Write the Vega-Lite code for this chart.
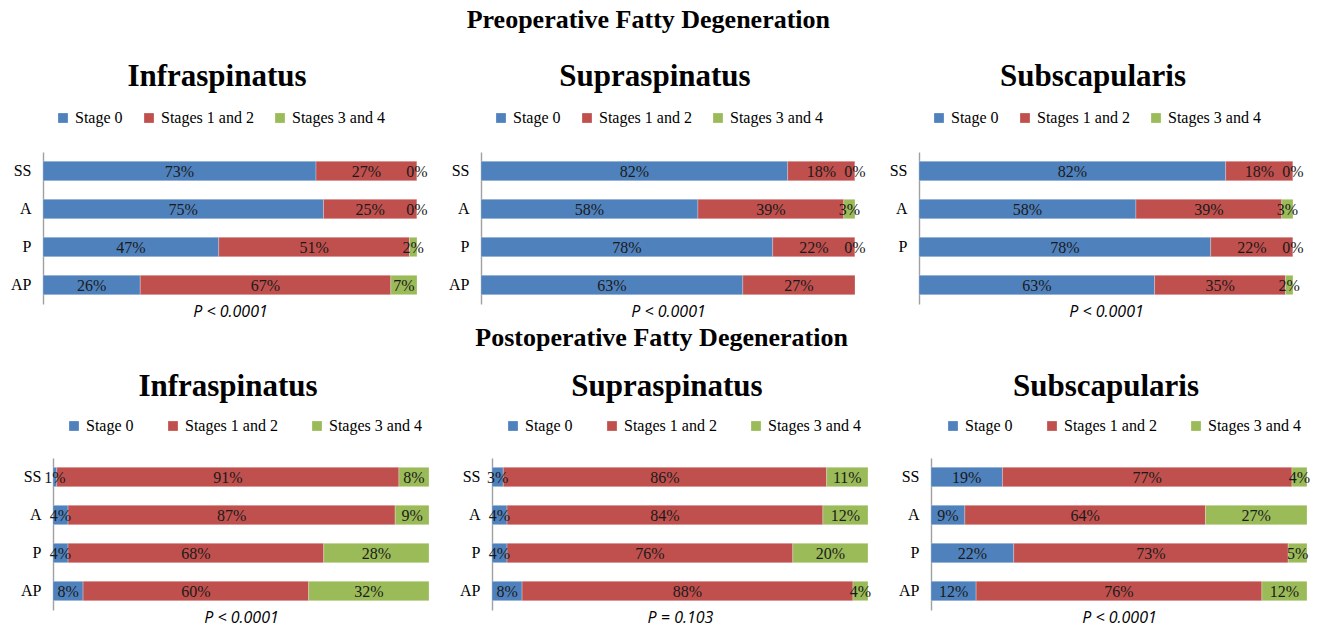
{
  "$schema": "https://vega.github.io/schema/vega-lite/v6.json",
  "background": "white",
  "padding": {"left": 7, "top": 7, "right": 5, "bottom": 2},
  "datasets": {
    "fd": [
      {"period": "Preoperative", "muscle": "Infraspinatus", "pos": "SS", "stage": "Stage 0", "value": 73},
      {"period": "Preoperative", "muscle": "Infraspinatus", "pos": "SS", "stage": "Stages 1 and 2", "value": 27},
      {"period": "Preoperative", "muscle": "Infraspinatus", "pos": "SS", "stage": "Stages 3 and 4", "value": 0},
      {"period": "Preoperative", "muscle": "Infraspinatus", "pos": "A", "stage": "Stage 0", "value": 75},
      {"period": "Preoperative", "muscle": "Infraspinatus", "pos": "A", "stage": "Stages 1 and 2", "value": 25},
      {"period": "Preoperative", "muscle": "Infraspinatus", "pos": "A", "stage": "Stages 3 and 4", "value": 0},
      {"period": "Preoperative", "muscle": "Infraspinatus", "pos": "P", "stage": "Stage 0", "value": 47},
      {"period": "Preoperative", "muscle": "Infraspinatus", "pos": "P", "stage": "Stages 1 and 2", "value": 51},
      {"period": "Preoperative", "muscle": "Infraspinatus", "pos": "P", "stage": "Stages 3 and 4", "value": 2},
      {"period": "Preoperative", "muscle": "Infraspinatus", "pos": "AP", "stage": "Stage 0", "value": 26},
      {"period": "Preoperative", "muscle": "Infraspinatus", "pos": "AP", "stage": "Stages 1 and 2", "value": 67},
      {"period": "Preoperative", "muscle": "Infraspinatus", "pos": "AP", "stage": "Stages 3 and 4", "value": 7},

      {"period": "Preoperative", "muscle": "Supraspinatus", "pos": "SS", "stage": "Stage 0", "value": 82},
      {"period": "Preoperative", "muscle": "Supraspinatus", "pos": "SS", "stage": "Stages 1 and 2", "value": 18},
      {"period": "Preoperative", "muscle": "Supraspinatus", "pos": "SS", "stage": "Stages 3 and 4", "value": 0},
      {"period": "Preoperative", "muscle": "Supraspinatus", "pos": "A", "stage": "Stage 0", "value": 58},
      {"period": "Preoperative", "muscle": "Supraspinatus", "pos": "A", "stage": "Stages 1 and 2", "value": 39},
      {"period": "Preoperative", "muscle": "Supraspinatus", "pos": "A", "stage": "Stages 3 and 4", "value": 3},
      {"period": "Preoperative", "muscle": "Supraspinatus", "pos": "P", "stage": "Stage 0", "value": 78},
      {"period": "Preoperative", "muscle": "Supraspinatus", "pos": "P", "stage": "Stages 1 and 2", "value": 22},
      {"period": "Preoperative", "muscle": "Supraspinatus", "pos": "P", "stage": "Stages 3 and 4", "value": 0},
      {"period": "Preoperative", "muscle": "Supraspinatus", "pos": "AP", "stage": "Stage 0", "value": 63},
      {"period": "Preoperative", "muscle": "Supraspinatus", "pos": "AP", "stage": "Stages 1 and 2", "value": 27},

      {"period": "Preoperative", "muscle": "Subscapularis", "pos": "SS", "stage": "Stage 0", "value": 82},
      {"period": "Preoperative", "muscle": "Subscapularis", "pos": "SS", "stage": "Stages 1 and 2", "value": 18},
      {"period": "Preoperative", "muscle": "Subscapularis", "pos": "SS", "stage": "Stages 3 and 4", "value": 0},
      {"period": "Preoperative", "muscle": "Subscapularis", "pos": "A", "stage": "Stage 0", "value": 58},
      {"period": "Preoperative", "muscle": "Subscapularis", "pos": "A", "stage": "Stages 1 and 2", "value": 39},
      {"period": "Preoperative", "muscle": "Subscapularis", "pos": "A", "stage": "Stages 3 and 4", "value": 3},
      {"period": "Preoperative", "muscle": "Subscapularis", "pos": "P", "stage": "Stage 0", "value": 78},
      {"period": "Preoperative", "muscle": "Subscapularis", "pos": "P", "stage": "Stages 1 and 2", "value": 22},
      {"period": "Preoperative", "muscle": "Subscapularis", "pos": "P", "stage": "Stages 3 and 4", "value": 0},
      {"period": "Preoperative", "muscle": "Subscapularis", "pos": "AP", "stage": "Stage 0", "value": 63},
      {"period": "Preoperative", "muscle": "Subscapularis", "pos": "AP", "stage": "Stages 1 and 2", "value": 35},
      {"period": "Preoperative", "muscle": "Subscapularis", "pos": "AP", "stage": "Stages 3 and 4", "value": 2},

      {"period": "Postoperative", "muscle": "Infraspinatus", "pos": "SS", "stage": "Stage 0", "value": 1},
      {"period": "Postoperative", "muscle": "Infraspinatus", "pos": "SS", "stage": "Stages 1 and 2", "value": 91},
      {"period": "Postoperative", "muscle": "Infraspinatus", "pos": "SS", "stage": "Stages 3 and 4", "value": 8},
      {"period": "Postoperative", "muscle": "Infraspinatus", "pos": "A", "stage": "Stage 0", "value": 4},
      {"period": "Postoperative", "muscle": "Infraspinatus", "pos": "A", "stage": "Stages 1 and 2", "value": 87},
      {"period": "Postoperative", "muscle": "Infraspinatus", "pos": "A", "stage": "Stages 3 and 4", "value": 9},
      {"period": "Postoperative", "muscle": "Infraspinatus", "pos": "P", "stage": "Stage 0", "value": 4},
      {"period": "Postoperative", "muscle": "Infraspinatus", "pos": "P", "stage": "Stages 1 and 2", "value": 68},
      {"period": "Postoperative", "muscle": "Infraspinatus", "pos": "P", "stage": "Stages 3 and 4", "value": 28},
      {"period": "Postoperative", "muscle": "Infraspinatus", "pos": "AP", "stage": "Stage 0", "value": 8},
      {"period": "Postoperative", "muscle": "Infraspinatus", "pos": "AP", "stage": "Stages 1 and 2", "value": 60},
      {"period": "Postoperative", "muscle": "Infraspinatus", "pos": "AP", "stage": "Stages 3 and 4", "value": 32},

      {"period": "Postoperative", "muscle": "Supraspinatus", "pos": "SS", "stage": "Stage 0", "value": 3},
      {"period": "Postoperative", "muscle": "Supraspinatus", "pos": "SS", "stage": "Stages 1 and 2", "value": 86},
      {"period": "Postoperative", "muscle": "Supraspinatus", "pos": "SS", "stage": "Stages 3 and 4", "value": 11},
      {"period": "Postoperative", "muscle": "Supraspinatus", "pos": "A", "stage": "Stage 0", "value": 4},
      {"period": "Postoperative", "muscle": "Supraspinatus", "pos": "A", "stage": "Stages 1 and 2", "value": 84},
      {"period": "Postoperative", "muscle": "Supraspinatus", "pos": "A", "stage": "Stages 3 and 4", "value": 12},
      {"period": "Postoperative", "muscle": "Supraspinatus", "pos": "P", "stage": "Stage 0", "value": 4},
      {"period": "Postoperative", "muscle": "Supraspinatus", "pos": "P", "stage": "Stages 1 and 2", "value": 76},
      {"period": "Postoperative", "muscle": "Supraspinatus", "pos": "P", "stage": "Stages 3 and 4", "value": 20},
      {"period": "Postoperative", "muscle": "Supraspinatus", "pos": "AP", "stage": "Stage 0", "value": 8},
      {"period": "Postoperative", "muscle": "Supraspinatus", "pos": "AP", "stage": "Stages 1 and 2", "value": 88},
      {"period": "Postoperative", "muscle": "Supraspinatus", "pos": "AP", "stage": "Stages 3 and 4", "value": 4},

      {"period": "Postoperative", "muscle": "Subscapularis", "pos": "SS", "stage": "Stage 0", "value": 19},
      {"period": "Postoperative", "muscle": "Subscapularis", "pos": "SS", "stage": "Stages 1 and 2", "value": 77},
      {"period": "Postoperative", "muscle": "Subscapularis", "pos": "SS", "stage": "Stages 3 and 4", "value": 4},
      {"period": "Postoperative", "muscle": "Subscapularis", "pos": "A", "stage": "Stage 0", "value": 9},
      {"period": "Postoperative", "muscle": "Subscapularis", "pos": "A", "stage": "Stages 1 and 2", "value": 64},
      {"period": "Postoperative", "muscle": "Subscapularis", "pos": "A", "stage": "Stages 3 and 4", "value": 27},
      {"period": "Postoperative", "muscle": "Subscapularis", "pos": "P", "stage": "Stage 0", "value": 22},
      {"period": "Postoperative", "muscle": "Subscapularis", "pos": "P", "stage": "Stages 1 and 2", "value": 73},
      {"period": "Postoperative", "muscle": "Subscapularis", "pos": "P", "stage": "Stages 3 and 4", "value": 5},
      {"period": "Postoperative", "muscle": "Subscapularis", "pos": "AP", "stage": "Stage 0", "value": 12},
      {"period": "Postoperative", "muscle": "Subscapularis", "pos": "AP", "stage": "Stages 1 and 2", "value": 76},
      {"period": "Postoperative", "muscle": "Subscapularis", "pos": "AP", "stage": "Stages 3 and 4", "value": 12}
    ]
  },
  "data": {"name": "fd"},
  "spacing": 6,
  "resolve": {"legend": {"color": "independent"}},
  "vconcat": [
    {
      "title": {"text": "Preoperative Fatty Degeneration", "fontSize": 26, "font": "Liberation Serif", "fontWeight": "bold", "dx": -7, "offset": 7, "baseline": "alphabetic"},
      "bounds": "flush",
      "spacing": 64,
      "resolve": {"legend": {"color": "independent"}},
      "hconcat": [
        {
          "width": 374, "height": 152,
          "title": {"text": "Infraspinatus", "offset": 17},
          "transform": [
            {"filter": "datum.period === 'Preoperative' && datum.muscle === 'Infraspinatus'"},
            {"stack": "value", "groupby": ["pos"], "sort": [{"field": "stage", "order": "ascending"}], "offset": "normalize", "as": ["v0", "v1"]},
            {"calculate": "(datum.v0 + datum.v1) / 2", "as": "mid"},
            {"calculate": "datum.value + '%'", "as": "label"}
          ],
          "encoding": {"y": {"field": "pos", "type": "nominal", "sort": ["SS", "A", "P", "AP"]}},
          "layer": [
            {"mark": "bar", "encoding": {
              "x": {"field": "v0", "type": "quantitative", "scale": {"domain": [0, 1]}, "axis": {"title": "P < 0.0001"}},
              "x2": {"field": "v1"},
              "color": {"field": "stage", "type": "nominal", "legend": {"title": null, "columnPadding": 18}}}},
            {"mark": "text", "encoding": {
              "x": {"field": "mid", "type": "quantitative", "axis": {"title": "P < 0.0001"}},
              "text": {"field": "label"}}}
          ]
        },
        {
          "width": 374, "height": 152,
          "title": {"text": "Supraspinatus", "offset": 17},
          "transform": [
            {"filter": "datum.period === 'Preoperative' && datum.muscle === 'Supraspinatus'"},
            {"stack": "value", "groupby": ["pos"], "sort": [{"field": "stage", "order": "ascending"}], "offset": "normalize", "as": ["v0", "v1"]},
            {"calculate": "(datum.v0 + datum.v1) / 2", "as": "mid"},
            {"calculate": "datum.value + '%'", "as": "label"}
          ],
          "encoding": {"y": {"field": "pos", "type": "nominal", "sort": ["SS", "A", "P", "AP"]}},
          "layer": [
            {"mark": "bar", "encoding": {
              "x": {"field": "v0", "type": "quantitative", "scale": {"domain": [0, 1]}, "axis": {"title": "P < 0.0001"}},
              "x2": {"field": "v1"},
              "color": {"field": "stage", "type": "nominal", "legend": {"title": null, "columnPadding": 18}}}},
            {"mark": "text", "encoding": {
              "x": {"field": "mid", "type": "quantitative", "axis": {"title": "P < 0.0001"}},
              "text": {"field": "label"}}}
          ]
        },
        {
          "width": 374, "height": 152,
          "title": {"text": "Subscapularis", "offset": 17},
          "transform": [
            {"filter": "datum.period === 'Preoperative' && datum.muscle === 'Subscapularis'"},
            {"stack": "value", "groupby": ["pos"], "sort": [{"field": "stage", "order": "ascending"}], "offset": "normalize", "as": ["v0", "v1"]},
            {"calculate": "(datum.v0 + datum.v1) / 2", "as": "mid"},
            {"calculate": "datum.value + '%'", "as": "label"}
          ],
          "encoding": {"y": {"field": "pos", "type": "nominal", "sort": ["SS", "A", "P", "AP"], "axis": {"labelExpr": "datum.value === 'AP' ? '' : datum.value"}}},
          "layer": [
            {"mark": "bar", "encoding": {
              "x": {"field": "v0", "type": "quantitative", "scale": {"domain": [0, 1]}, "axis": {"title": "P < 0.0001"}},
              "x2": {"field": "v1"},
              "color": {"field": "stage", "type": "nominal", "legend": {"title": null, "columnPadding": 18}}}},
            {"mark": "text", "encoding": {
              "x": {"field": "mid", "type": "quantitative", "axis": {"title": "P < 0.0001"}},
              "text": {"field": "label"}}}
          ]
        }
      ]
    },
    {
      "title": {"text": "Postoperative Fatty Degeneration", "fontSize": 26, "font": "Liberation Serif", "fontWeight": "bold", "dx": -2, "offset": -1, "baseline": "alphabetic"},
      "bounds": "flush",
      "spacing": 9,
      "resolve": {"legend": {"color": "independent"}},
      "hconcat": [
        {"width": 1, "height": 152, "data": {"values": [{}]}, "mark": {"type": "point", "opacity": 0}, "encoding": {}},
        {
          "bounds": "flush",
          "spacing": 63,
          "resolve": {"legend": {"color": "independent"}},
          "hconcat": [
            {
              "width": 376, "height": 152,
              "title": {"text": "Infraspinatus", "offset": 15},
              "transform": [
                {"filter": "datum.period === 'Postoperative' && datum.muscle === 'Infraspinatus'"},
                {"stack": "value", "groupby": ["pos"], "sort": [{"field": "stage", "order": "ascending"}], "offset": "normalize", "as": ["v0", "v1"]},
                {"calculate": "(datum.v0 + datum.v1) / 2", "as": "mid"},
                {"calculate": "datum.value + '%'", "as": "label"}
              ],
              "encoding": {"y": {"field": "pos", "type": "nominal", "sort": ["SS", "A", "P", "AP"]}},
              "layer": [
                {"mark": "bar", "encoding": {
                  "x": {"field": "v0", "type": "quantitative", "scale": {"domain": [0, 1]}, "axis": {"title": "P < 0.0001"}},
                  "x2": {"field": "v1"},
                  "color": {"field": "stage", "type": "nominal", "legend": {"title": null, "columnPadding": 31, "legendX": 13, "legendY": -40}}}},
                {"mark": "text", "encoding": {
                  "x": {"field": "mid", "type": "quantitative", "axis": {"title": "P < 0.0001"}},
                  "text": {"field": "label"}}}
              ]
            },
            {
              "width": 376, "height": 152,
              "title": {"text": "Supraspinatus", "offset": 15},
              "transform": [
                {"filter": "datum.period === 'Postoperative' && datum.muscle === 'Supraspinatus'"},
                {"stack": "value", "groupby": ["pos"], "sort": [{"field": "stage", "order": "ascending"}], "offset": "normalize", "as": ["v0", "v1"]},
                {"calculate": "(datum.v0 + datum.v1) / 2", "as": "mid"},
                {"calculate": "datum.value + '%'", "as": "label"}
              ],
              "encoding": {"y": {"field": "pos", "type": "nominal", "sort": ["SS", "A", "P", "AP"]}},
              "layer": [
                {"mark": "bar", "encoding": {
                  "x": {"field": "v0", "type": "quantitative", "scale": {"domain": [0, 1]}, "axis": {"title": "P = 0.103"}},
                  "x2": {"field": "v1"},
                  "color": {"field": "stage", "type": "nominal", "legend": {"title": null, "columnPadding": 31, "legendX": 13, "legendY": -40}}}},
                {"mark": "text", "encoding": {
                  "x": {"field": "mid", "type": "quantitative", "axis": {"title": "P = 0.103"}},
                  "text": {"field": "label"}}}
              ]
            },
            {
              "width": 376, "height": 152,
              "title": {"text": "Subscapularis", "offset": 15},
              "transform": [
                {"filter": "datum.period === 'Postoperative' && datum.muscle === 'Subscapularis'"},
                {"stack": "value", "groupby": ["pos"], "sort": [{"field": "stage", "order": "ascending"}], "offset": "normalize", "as": ["v0", "v1"]},
                {"calculate": "(datum.v0 + datum.v1) / 2", "as": "mid"},
                {"calculate": "datum.value + '%'", "as": "label"}
              ],
              "encoding": {"y": {"field": "pos", "type": "nominal", "sort": ["SS", "A", "P", "AP"]}},
              "layer": [
                {"mark": "bar", "encoding": {
                  "x": {"field": "v0", "type": "quantitative", "scale": {"domain": [0, 1]}, "axis": {"title": "P < 0.0001"}},
                  "x2": {"field": "v1"},
                  "color": {"field": "stage", "type": "nominal", "legend": {"title": null, "columnPadding": 31, "legendX": 14, "legendY": -40}}}},
                {"mark": "text", "encoding": {
                  "x": {"field": "mid", "type": "quantitative", "axis": {"title": "P < 0.0001"}},
                  "text": {"field": "label"}}}
              ]
            }
          ]
        }
      ]
    }
  ],
  "config": {
    "view": {"stroke": null},
    "font": "Liberation Serif",
    "title": {"font": "Liberation Serif", "fontSize": 31, "fontWeight": "bold", "color": "#000000", "dx": -13, "offset": 24, "baseline": "alphabetic", "anchor": "middle"},
    "scale": {"bandPaddingInner": 0.49, "bandPaddingOuter": 0.245},
    "range": {"category": ["#4F81BD", "#C0504D", "#9BBB59"]},
    "axisX": {"domain": false, "ticks": false, "labels": false, "grid": false, "titleFont": "Open Sans", "titleFontStyle": "italic", "titleFontWeight": "normal", "titleFontSize": 16, "titleColor": "#000000", "titlePadding": -1},
    "axisY": {"domain": true, "domainColor": "#A0A0A0", "domainWidth": 1.4, "ticks": false, "grid": false, "title": null, "labelFont": "Liberation Serif", "labelFontSize": 16, "labelColor": "#000000", "labelPadding": 12, "minExtent": 36},
    "bar": {"stroke": "#ffffff", "strokeWidth": 0.5, "strokeOpacity": 0.5},
    "text": {"font": "Liberation Serif", "fontSize": 16, "color": "#1a1a1a", "align": "center", "baseline": "middle", "dy": 1},
    "legend": {"orient": "none", "legendX": 12, "legendY": -42, "direction": "horizontal", "symbolType": "square", "symbolSize": 100, "symbolStrokeWidth": 0, "labelFont": "Liberation Serif", "labelFontSize": 16, "labelColor": "#000000", "labelOffset": 4}
  }
}
